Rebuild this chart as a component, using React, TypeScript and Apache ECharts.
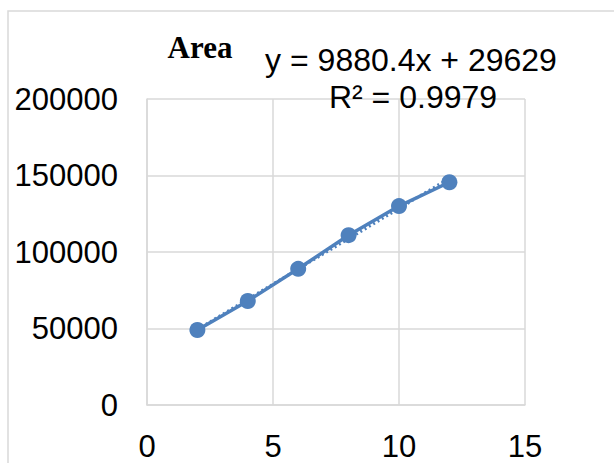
import React, { useEffect, useRef } from "react";
import * as echarts from "echarts";

const xValues = [2, 4, 6, 8, 10, 12];
const areaValues = [49000, 68000, 89000, 111000, 130000, 145600];
const trendX = [2, 12];
const trendY = [49390, 148194];
const titleText = "Area";
const equationText = "y = 9880.4x + 29629";
const r2Text = "R² = 0.9979";

export default function App() {
  const ref = useRef<HTMLDivElement>(null);
  useEffect(() => {
    if (!ref.current) return;
    const chart = echarts.init(ref.current, undefined, { renderer: "svg" });
    const blue = "#4F81BD";
    const grey = "#D9D9D9";
    const sans = "'Liberation Sans', Arial, sans-serif";
    chart.setOption({
      animation: false,
      backgroundColor: "#ffffff",
      grid: { left: 147, top: 99, width: 378, height: 306, containLabel: false },
      xAxis: {
        type: "value",
        min: 0,
        max: 15,
        interval: 5,
        axisLine: { show: true, lineStyle: { color: grey, width: 1.5 } },
        axisTick: { show: false },
        splitLine: { show: true, lineStyle: { color: grey, width: 1.5 } },
        axisLabel: { color: "#000", fontSize: 31, fontFamily: sans, margin: 26 },
      },
      yAxis: {
        type: "value",
        min: 0,
        max: 200000,
        interval: 50000,
        axisLine: { show: true, lineStyle: { color: grey, width: 1.5 } },
        axisTick: { show: false },
        splitLine: { show: true, lineStyle: { color: grey, width: 1.5 } },
        axisLabel: {
          color: "#000",
          fontSize: 31,
          fontFamily: sans,
          margin: 29,
          formatter: (v: number) => String(v),
        },
      },
      series: [
        {
          type: "line",
          data: trendX.map((x, i) => [x, trendY[i]]),
          symbol: "none",
          lineStyle: { color: blue, width: 3, type: [2, 3] },
          z: 1,
        },
        {
          type: "line",
          data: xValues.map((x, i) => [x, areaValues[i]]),
          symbol: "circle",
          symbolSize: 16,
          itemStyle: { color: blue },
          lineStyle: { color: blue, width: 3.5 },
          z: 2,
        },
      ],
      graphic: [
        {
          type: "polyline",
          shape: { points: [[8, 470], [8, 11], [620, 11]] },
          style: { stroke: grey, lineWidth: 1.5, fill: "none" },
          silent: true,
        },
        {
          type: "text",
          x: 200,
          y: 47,
          style: {
            text: titleText,
            font: "bold 31px 'Liberation Serif', 'Times New Roman', serif",
            fill: "#000",
            align: "center",
            verticalAlign: "middle",
          },
        },
        {
          type: "text",
          x: 411,
          y: 60,
          style: {
            text: equationText,
            font: "32px " + sans,
            fill: "#000",
            align: "center",
            verticalAlign: "middle",
          },
          z: 10,
        },
        {
          type: "text",
          x: 413,
          y: 97,
          style: {
            text: r2Text,
            font: "32px " + sans,
            fill: "#000",
            align: "center",
            verticalAlign: "middle",
          },
          z: 10,
        },
      ],
    });
    return () => chart.dispose();
  }, []);
  return (
    <div
      ref={ref}
      style={{ position: "fixed", left: 0, top: 0, width: 614, height: 463 }}
    />
  );
}
